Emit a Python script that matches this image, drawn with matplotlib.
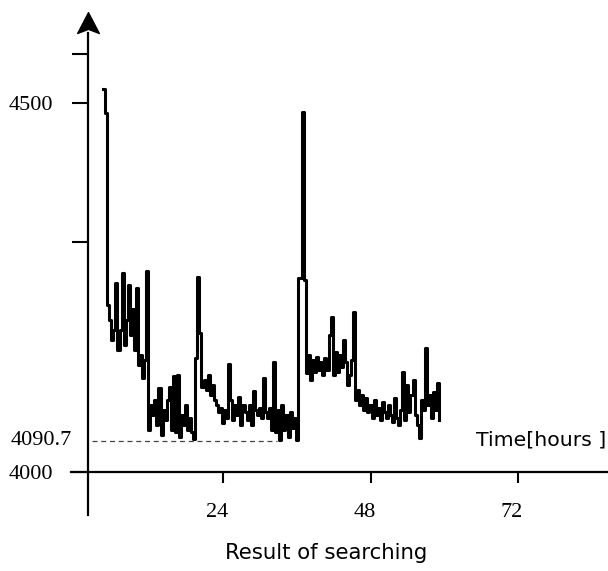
import matplotlib.pyplot as plt
import matplotlib.transforms as mtransforms
from matplotlib.path import Path
import numpy as np

# cost of the best tour found, one sample at a time
cost = [4519, 4486, 4226, 4206, 4179, 4192, 4256, 4165, 4192, 4270,
        4172, 4206, 4253, 4186, 4221, 4165, 4249, 4145, 4159, 4127,
        4152, 4272, 4057, 4091, 4077, 4098, 4064, 4114, 4050, 4084,
        4070, 4098, 4115, 4057, 4130, 4054, 4131, 4047, 4077, 4064,
        4091, 4057, 4073, 4054, 4045, 4154, 4264, 4188, 4115, 4125,
        4111, 4131, 4104, 4118, 4098, 4091, 4081, 4087, 4066, 4084,
        4073, 4146, 4098, 4070, 4091, 4077, 4102, 4064, 4091, 4081,
        4070, 4091, 4064, 4110, 4084, 4077, 4087, 4073, 4127, 4081,
        4073, 4087, 4057, 4149, 4054, 4084, 4043, 4091, 4057, 4077,
        4047, 4081, 4060, 4073, 4043, 4263, 4263, 4488, 4260, 4134,
        4159, 4125, 4152, 4136, 4156, 4138, 4149, 4131, 4154, 4138,
        4186, 4210, 4131, 4163, 4136, 4159, 4142, 4179, 4149, 4118,
        4131, 4152, 4217, 4098, 4111, 4091, 4104, 4084, 4100, 4081,
        4091, 4073, 4098, 4077, 4087, 4070, 4095, 4081, 4073, 4091,
        4077, 4068, 4100, 4073, 4064, 4084, 4136, 4070, 4118, 4081,
        4104, 4125, 4077, 4064, 4046, 4098, 4084, 4168, 4091, 4104,
        4073, 4108, 4084, 4121, 4070]
start_hour = 4.5
sample_step = 1/3   # hours between two samples
hours = start_hour + sample_step*np.arange(len(cost))

# best solution found, marked by the dashed line
best_cost = 4042
best_hour = 32.8
best_label = '4090.7'

x_ticks = [24, 48, 72]
x_labels = ['24', '48', '72']
y_ticks = [4000, 4312, 4500, 4566]
y_labels = ['4000', '', '4500', '']
y_axis_hour = 2.0

fig = plt.figure(figsize=(6.08, 5.71), dpi=100)
ax = fig.add_axes([71/608, 56/571, 537/608, 482/571])

ax.plot(hours, cost, color='black', lw=2.2, drawstyle='steps-post')
ax.plot([y_axis_hour + 0.7, best_hour], [best_cost, best_cost],
        color='#444444', lw=0.9, ls=(0, (4, 3)))

ax.set_xlim(-0.73, 86.64)
ax.set_ylim(3941.7, 4594.8)

# axes drawn as two crossing lines
ax.spines['top'].set_visible(False)
ax.spines['right'].set_visible(False)
ax.spines['left'].set_position(('data', y_axis_hour))
ax.spines['bottom'].set_position(('data', 4000))
ax.spines['left'].set_linewidth(1.6)
ax.spines['bottom'].set_linewidth(1.6)

ax.set_xticks(x_ticks, x_labels)
ax.set_yticks(y_ticks, y_labels)
ax.tick_params(axis='y', direction='out', length=11.5, width=1.5, pad=13.5,
               labelsize=16, labelfontfamily='Liberation Serif')
ax.tick_params(axis='x', direction='out', length=8, width=1.5, pad=14,
               labelsize=16, labelfontfamily='Liberation Serif')
shift = mtransforms.ScaledTranslation(-6/100, 0, fig.dpi_scale_trans)
for lab in ax.get_xticklabels():
    lab.set_transform(lab.get_transform() + shift)

ax.annotate(best_label, xy=(y_axis_hour, best_cost), xytext=(-11.5, 0),
            textcoords='offset points', ha='right', va='center',
            fontsize=16, family='Liberation Serif', annotation_clip=False)

# arrow head (stealth shape) on top of the vertical axis
head = Path([(0, 1), (-0.52, 0), (0, 0.2), (0.52, 0), (0, 1)],
            [Path.MOVETO, Path.LINETO, Path.LINETO, Path.LINETO, Path.CLOSEPOLY])
ax.plot([y_axis_hour], [1.0], transform=ax.get_xaxis_transform(),
        marker=head, ms=30, color='black', clip_on=False)

fig.text(606/608, 1 - 440/571, 'Time[hours ]', ha='right', va='center', fontsize=14.7)
fig.text(326/608, 1 - 553/571, 'Result of searching', ha='center', va='center', fontsize=15.3)

fig.savefig('out.png', dpi=100)
